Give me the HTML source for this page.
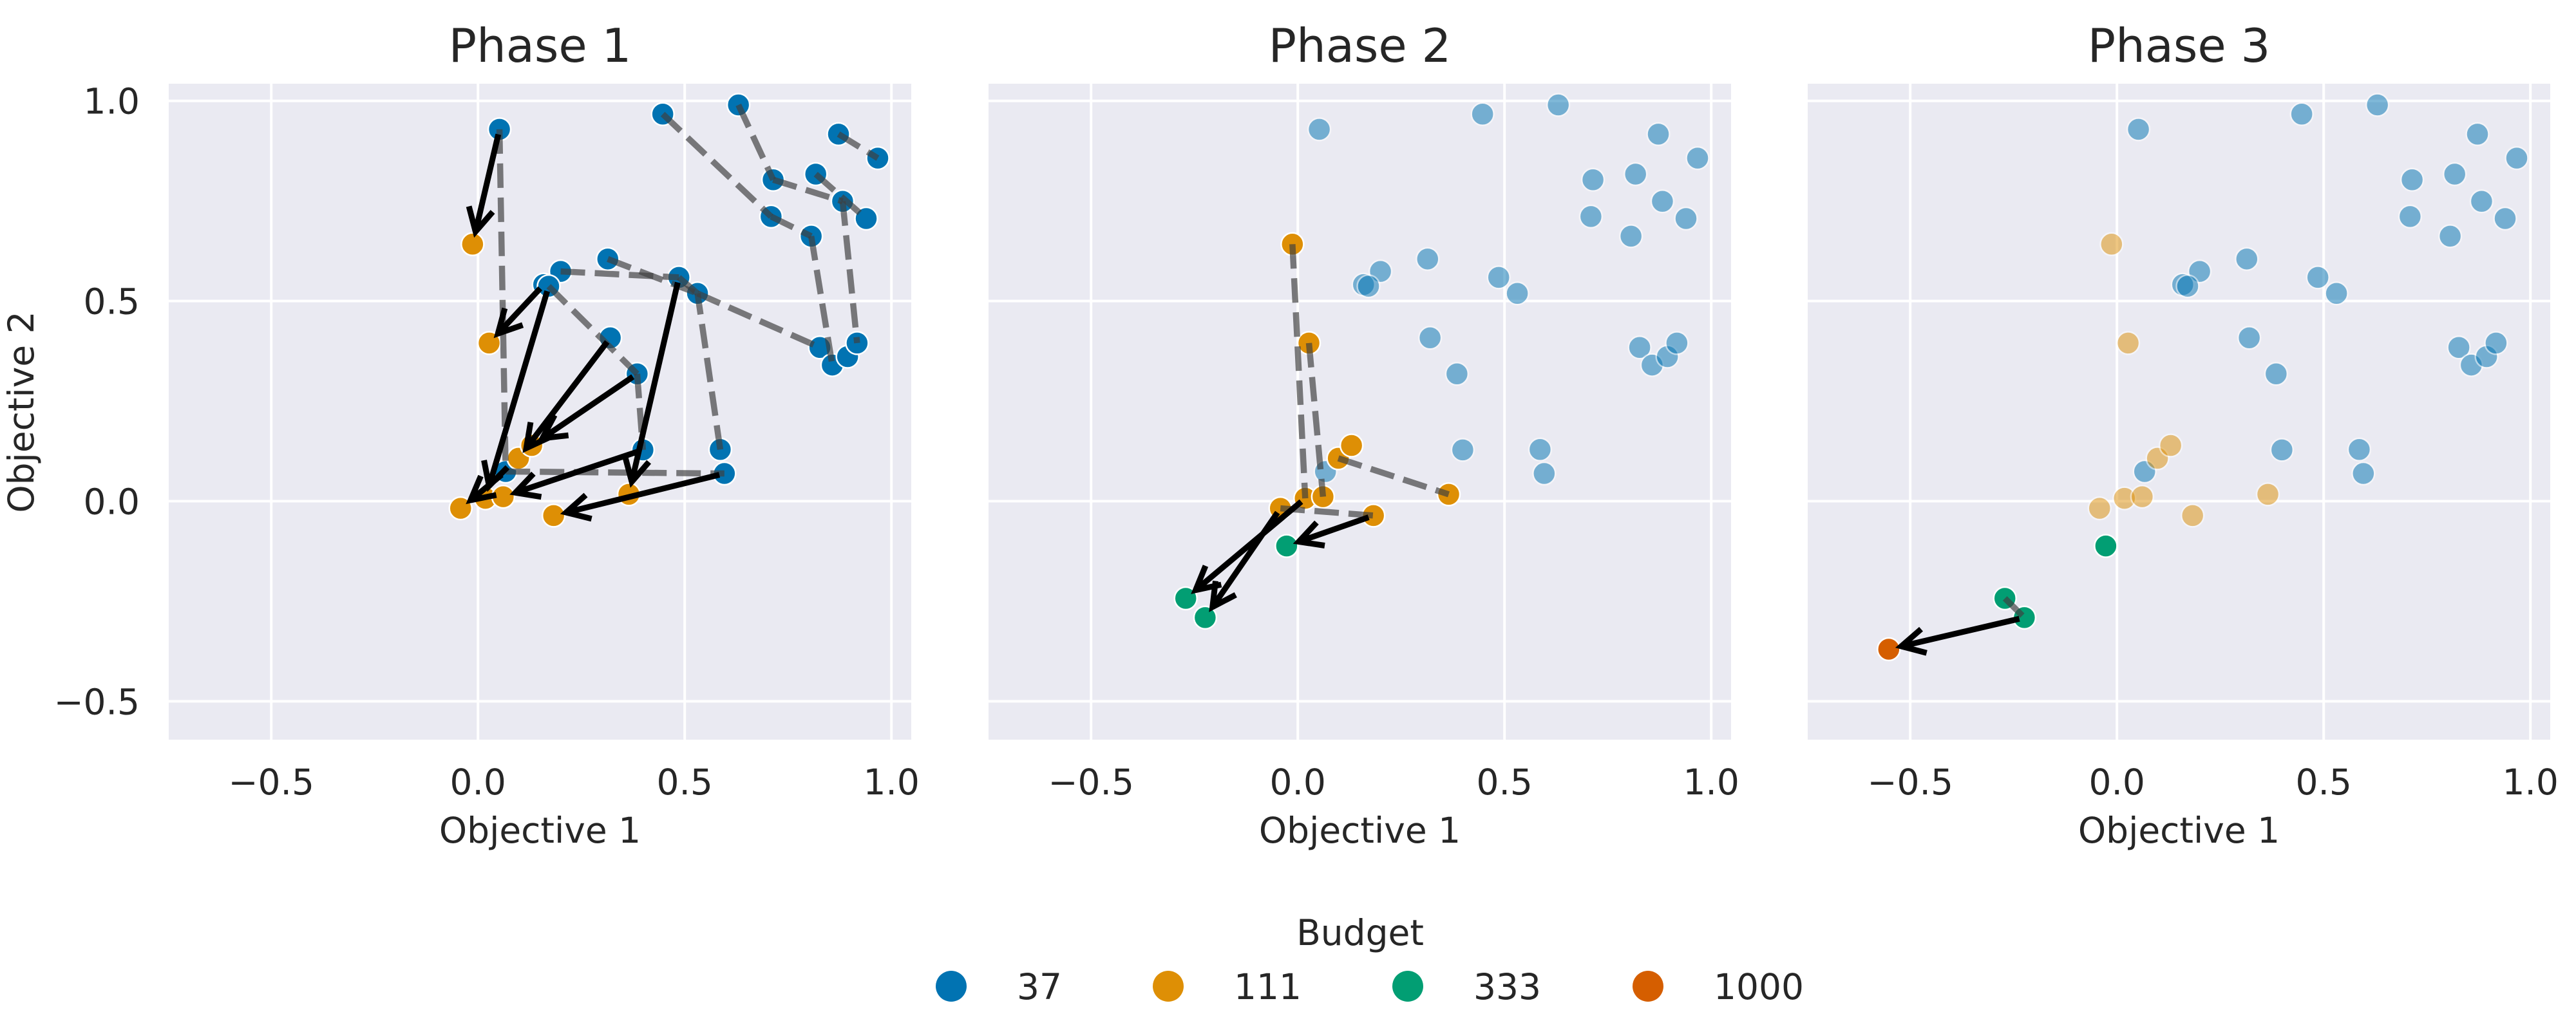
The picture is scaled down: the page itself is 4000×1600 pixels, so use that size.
<!DOCTYPE html>
<html><head><meta charset="utf-8"><title>Budget phases</title>
<style>html,body{margin:0;padding:0;background:#fff}svg{display:block}text{font-family:"DejaVu Sans","Liberation Sans",sans-serif;fill:#262626}</style>
</head><body>
<svg id="chart" xmlns="http://www.w3.org/2000/svg" width="4000" height="1600" viewBox="0 0 4000 1600"></svg>
<script>
// ---- data ----
const budgetLabels = ["37", "111", "333", "1000"];
const budgetColors = ["#0173B2", "#DE8F05", "#029E73", "#D55E00"];
const blueX = [0.052,0.447,0.630,0.872,0.967,0.714,0.817,0.882,0.939,0.709,0.806,0.200,0.314,0.159,0.171,0.486,0.531,0.320,0.385,0.827,0.857,0.894,0.917,0.399,0.586,0.596,0.067];
const blueY = [0.929,0.967,0.990,0.917,0.857,0.803,0.817,0.749,0.706,0.711,0.662,0.574,0.605,0.541,0.537,0.559,0.519,0.408,0.318,0.384,0.340,0.361,0.395,0.128,0.129,0.069,0.074];
const orangeX = [-0.013,0.027,0.098,0.130,-0.042,0.018,0.061,0.365,0.183];
const orangeY = [0.642,0.395,0.107,0.139,-0.018,0.007,0.011,0.017,-0.036];
const greenX = [-0.271,-0.224,-0.027];
const greenY = [-0.243,-0.291,-0.112];
const redX = [-0.552];
const redY = [-0.370];
const phase1Dashed = [[0,26],[26,25],[24,16],[16,19],[11,15],[12,16],[15,16],[14,18],[18,23],[1,9],[9,10],[10,20],[2,5],[5,7],[7,22],[6,8],[3,4]];
const phase1Arrows = [[0,0],[13,1],[14,5],[26,4],[17,2],[18,3],[15,7],[23,6],[25,8]];
const phase2Dashed = [[0,5],[1,6],[2,7],[4,8]];
const phase2Arrows = [[5,0],[4,1],[8,2]];
const phase3Dashed = [[0,1]];
const phase3Arrows = [[1,0]];
const xTicks = [-0.5, 0.0, 0.5, 1.0];
const yTicks = [-0.5, 0.0, 0.5, 1.0];
const xTickLabels = ["\u22120.5", "0.0", "0.5", "1.0"];
const yTickLabels = ["\u22120.5", "0.0", "0.5", "1.0"];
const phaseTitles = ["Phase 1", "Phase 2", "Phase 3"];

// ---- layout ----
const NS = "http://www.w3.org/2000/svg";
const svg = document.getElementById("chart");
const XMIN = -0.748, XMAX = 1.048, YMIN = -0.596, YMAX = 1.043;
const AX_W = 1153, AX_TOP = 130, AX_BOT = 1149;
const offsets = [262, 1535, 2807];
function mk(tag, attrs, parent) { const e = document.createElementNS(NS, tag); for (const k in attrs) e.setAttribute(k, attrs[k]); (parent || svg).appendChild(e); return e; }

function drawPanel(p) {
  const left = offsets[p];
  const sx = v => left + (v - XMIN) / (XMAX - XMIN) * AX_W;
  const sy = v => AX_BOT - (v - YMIN) / (YMAX - YMIN) * (AX_BOT - AX_TOP);
  const g = mk("g", {});
  
  
  const bg = mk("rect", {x: left, y: AX_TOP, width: AX_W, height: AX_BOT - AX_TOP, fill: "#EAEAF2"}, g);
  
  
  xTicks.forEach((t, i) => {
    const l = mk("line", {x1: sx(t), x2: sx(t), y1: AX_TOP, y2: AX_BOT, stroke: "#fff", "stroke-width": 4}, g);
    
    
    const tx = mk("text", {x: sx(t), y: 1234, "text-anchor": "middle", "font-size": 55}, g);
    tx.textContent = xTickLabels[i];
    
    
  });
  yTicks.forEach((t, i) => {
    const l = mk("line", {x1: left, x2: left + AX_W, y1: sy(t), y2: sy(t), stroke: "#fff", "stroke-width": 4}, g);
    
    
    if (p === 0) {
      const ty = mk("text", {x: 217, y: sy(t) + 20, "text-anchor": "end", "font-size": 55}, g);
      ty.textContent = yTickLabels[i];
      
      
    }
  });
  const title = mk("text", {x: left + AX_W / 2, y: 96, "text-anchor": "middle", "font-size": 72}, g);
  title.textContent = phaseTitles[p];
  
  
  const xl = mk("text", {x: left + AX_W / 2, y: 1309, "text-anchor": "middle", "font-size": 55}, g);
  xl.textContent = "Objective 1";
  
  
  if (p === 0) {
    const yl = mk("text", {x: 0, y: 0, "text-anchor": "middle", "font-size": 55, transform: "translate(52,640) rotate(-90)"}, g);
    yl.textContent = "Objective 2";
    
    
  }
  const sets = [[blueX, blueY, 0], [orangeX, orangeY, 1], [greenX, greenY, 2], [redX, redY, 3]];
  const visible = p === 0 ? [1, 1, 0, 0] : p === 1 ? [0.5, 1, 1, 0] : [0.5, 0.5, 1, 1];
  sets.forEach(([xs, ys, c]) => {
    if (!visible[c]) return;
    xs.forEach((v, i) => {
      const ci = mk("circle", {cx: sx(v), cy: sy(ys[i]), r: 17.5, fill: budgetColors[c], stroke: "#fff", "stroke-width": 2.5, opacity: visible[c]}, g);
      
      
    });
  });
  let fromX, fromY, toX, toY, dashed, arrows;
  if (p === 0) { fromX = blueX; fromY = blueY; toX = orangeX; toY = orangeY; dashed = phase1Dashed; arrows = phase1Arrows; }
  else if (p === 1) { fromX = orangeX; fromY = orangeY; toX = greenX; toY = greenY; dashed = phase2Dashed; arrows = phase2Arrows; }
  else { fromX = greenX; fromY = greenY; toX = redX; toY = redY; dashed = phase3Dashed; arrows = phase3Arrows; }
  dashed.forEach(([a, b]) => {
    const l = mk("line", {x1: sx(fromX[a]), y1: sy(fromY[a]), x2: sx(fromX[b]), y2: sy(fromY[b]), stroke: "#404040", "stroke-opacity": 0.68, "stroke-width": 9.5, "stroke-dasharray": "38 15"}, g);
    
    
  });
  arrows.forEach(([a, b]) => {
    const x1 = sx(fromX[a]), y1 = sy(fromY[a]), x2 = sx(toX[b]), y2 = sy(toY[b]);
    const dx = x2 - x1, dy = y2 - y1, L = Math.hypot(dx, dy), ux = dx / L, uy = dy / L;
    const sxA = x1 + ux * 8, syA = y1 + uy * 8, ex = x2 - ux * 20, ey = y2 - uy * 20;
    const hl = 36, hw = 19;
    const bx = ex - ux * hl, by = ey - uy * hl;
    const path = `M${sxA},${syA} L${ex},${ey} M${bx - uy * hw},${by + ux * hw} L${ex},${ey} L${bx + uy * hw},${by - ux * hw}`;
    const pa = mk("path", {d: path, fill: "none", stroke: "#000", "stroke-width": 9, "stroke-linecap": "butt", "stroke-linejoin": "miter"}, g);
    
    
  });
}
[0, 1, 2].forEach(drawPanel);

const legendMarkerX = [1477, 1814, 2186, 2559];
const lg = mk("g", {});


const lt = mk("text", {x: 2112, y: 1468, "text-anchor": "middle", "font-size": 55}, lg);
lt.textContent = "Budget";


budgetLabels.forEach((lab, i) => {
  const c = mk("circle", {cx: legendMarkerX[i], cy: 1532, r: 24, fill: budgetColors[i]}, lg);
  
  
  const t = mk("text", {x: legendMarkerX[i] + 102, y: 1552, "font-size": 55}, lg);
  t.textContent = lab;
  
  
});
</script>
</body></html>
